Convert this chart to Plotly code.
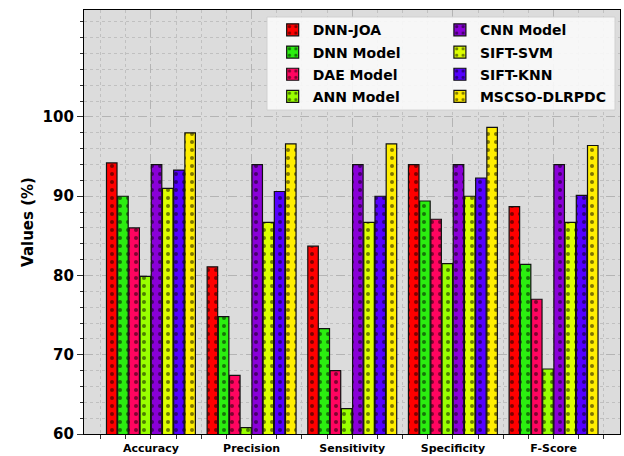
import plotly.graph_objects as go

categories = ["Accuracy", "Precision", "Sensitivity", "Specificity", "F-Score"]
series_names = ["DNN-JOA", "DNN Model", "DAE Model", "ANN Model",
                "CNN Model", "SIFT-SVM", "SIFT-KNN", "MSCSO-DLRPDC"]

dnn_joa = [94.2, 81.1, 83.7, 94.0, 88.7]
dnn_model = [90.0, 74.8, 73.3, 89.4, 81.4]
dae_model = [86.0, 67.4, 68.0, 87.1, 77.0]
ann_model = [79.9, 60.8, 63.2, 81.5, 68.2]
cnn_model = [94.0, 94.0, 94.0, 94.0, 94.0]
sift_svm = [91.0, 86.7, 86.7, 90.0, 86.7]
sift_knn = [93.3, 90.6, 90.0, 92.3, 90.1]
mscso = [98.0, 96.6, 96.6, 98.7, 96.4]

y_ticks = [60, 70, 80, 90, 100]

series_values = [dnn_joa, dnn_model, dae_model, ann_model,
                 cnn_model, sift_svm, sift_knn, mscso]
colors = ["#ff0000", "#2bee10", "#ff0560", "#99ff00",
          "#8a00d8", "#ddff00", "#5500ff", "#ffee00"]

xpos = list(range(len(categories)))

fig = go.Figure()
for i, (name, vals, col) in enumerate(zip(series_names, series_values, colors)):
    fig.add_trace(go.Bar(
        x=xpos, y=vals, name=name, legendgroup=name,
        marker=dict(color=col, line=dict(color="#111111", width=1.2),
                    pattern=dict(shape=".", fgcolor="black", bgcolor=col,
                                 size=8, solidity=0.2)),
        legend="legend" if i < 4 else "legend2",
    ))

legend_font = dict(family="DejaVu Sans", size=14, color="black", weight="bold")

fig.update_layout(
    width=624, height=456,
    margin=dict(l=84, r=4, t=10, b=22),
    paper_bgcolor="white",
    plot_bgcolor="#dcdcdc",
    barmode="group",
    bargap=0.11,
    bargroupgap=0.06,
    font=dict(family="DejaVu Sans", color="black"),
    legend=dict(x=0.352, y=0.99, xanchor="left", yanchor="top",
                bgcolor="rgba(0,0,0,0)", font=legend_font,
                tracegroupgap=1, itemwidth=30),
    legend2=dict(x=0.664, y=0.99, xanchor="left", yanchor="top",
                 bgcolor="rgba(0,0,0,0)", font=legend_font,
                 tracegroupgap=1, itemwidth=30),
    showlegend=True,
    shapes=[dict(type="rect", xref="paper", yref="paper",
                 x0=0.3414, x1=0.9907, y0=0.764, y1=0.9835,
                 fillcolor="rgba(248,248,248,0.92)",
                 line=dict(color="#d0d0d0", width=1), layer="above")],
)

fig.update_xaxes(
    range=[-0.665, 4.66], automargin=False,
    tickmode="array", tickvals=xpos, ticktext=categories,
    tickfont=dict(family="DejaVu Sans", size=11, weight="bold", color="black"),
    ticks="outside", ticklen=4, tickcolor="#333",
    showgrid=True, gridcolor="#b4b4b4", griddash="dash", gridwidth=1,
    minor=dict(tick0=0, dtick=0.25, ticks="outside", ticklen=4, tickcolor="#333",
               showgrid=True, gridcolor="#c0c0c0", griddash="dot"),
    showline=True, linecolor="black", linewidth=1.2, mirror=True,
    zeroline=False,
)
fig.update_yaxes(
    range=[60, 113.5], automargin=False,
    tickmode="array", tickvals=y_ticks,
    tickfont=dict(family="DejaVu Sans", size=15, weight="bold", color="black"),
    ticks="outside", ticklen=6, tickcolor="#333",
    showgrid=True, gridcolor="#b4b4b4", griddash="dash", gridwidth=1,
    minor=dict(tick0=0, dtick=2, ticks="outside", ticklen=3, tickcolor="#333",
               showgrid=True, gridcolor="#c0c0c0", griddash="dot"),
    showline=True, linecolor="black", linewidth=1.2, mirror=True,
    zeroline=False,
    title=dict(text="Values (%)", standoff=5,
               font=dict(family="DejaVu Sans", size=15, weight="bold", color="black")),
)

fig.write_html("out.html", config={"displayModeBar": False},
               post_script="document.body.style.margin='0';document.body.style.overflow='hidden';")
